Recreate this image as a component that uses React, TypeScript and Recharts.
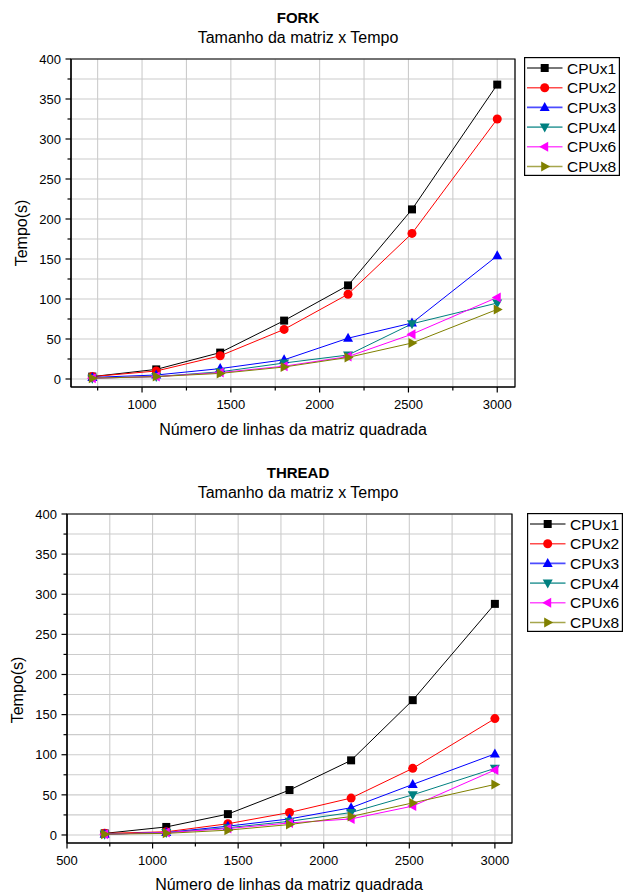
import React from 'react';
import { LineChart, Line, XAxis, YAxis, CartesianGrid, ReferenceArea, Legend } from 'recharts';

const FONT = '"Liberation Sans", Arial, Helvetica, sans-serif';

// matrix sizes (x values)
const sizes = [720, 1080, 1440, 1800, 2160, 2520, 3000];

// FORK timings (s)
const forkCpu1 = [3, 12, 33, 73, 117, 212, 368];
const forkCpu2 = [3, 10, 29, 62, 106, 182, 325];
const forkCpu3 = [2, 5, 13, 24, 51, 70, 154];
const forkCpu4 = [1, 3, 9, 20, 30, 69, 95];
const forkCpu6 = [1, 3, 8, 16, 28, 56, 102];
const forkCpu8 = [1, 3, 7, 15, 27, 45, 87];

// THREAD timings (s)
const threadCpu1 = [2, 10, 26, 56, 93, 168, 288];
const threadCpu2 = [2, 4, 14, 28, 46, 83, 145];
const threadCpu3 = [1, 3, 11, 20, 34, 63, 101];
const threadCpu4 = [1, 3, 9, 17, 28, 50, 83];
const threadCpu6 = [1, 3, 8, 15, 20, 36, 81];
const threadCpu8 = [1, 2, 6, 13, 23, 40, 63];

const seriesNames = ['CPUx1', 'CPUx2', 'CPUx3', 'CPUx4', 'CPUx6', 'CPUx8'];
const seriesColors = ['#000000', '#ff0000', '#0000ff', '#008080', '#ff00ff', '#808000'];
const seriesShapes = ['square', 'circle', 'up', 'down', 'left', 'right'];

const yTicks = [0, 25, 50, 75, 100, 125, 150, 175, 200, 225, 250, 275, 300, 325, 350, 375, 400];
const forkXTicks = [750, 1000, 1250, 1500, 1750, 2000, 2250, 2500, 2750, 3000];
const threadXTicks = [500, 750, 1000, 1250, 1500, 1750, 2000, 2250, 2500, 2750, 3000];

const buildRows = (cols: number[][]) =>
  sizes.map((n, i) => {
    const row: any = { n };
    cols.forEach((c, k) => (row['s' + k] = c[i]));
    return row;
  });

const forkRows = buildRows([forkCpu1, forkCpu2, forkCpu3, forkCpu4, forkCpu6, forkCpu8]);
const threadRows = buildRows([threadCpu1, threadCpu2, threadCpu3, threadCpu4, threadCpu6, threadCpu8]);

const Marker = ({ shape, color, cx, cy }: any) => {
  if (shape === 'circle') return <circle cx={cx} cy={cy} r={4.5} fill={color} />;
  let d = '';
  switch (shape) {
    case 'square':
      d = `M${cx - 4},${cy - 4}h8v8h-8z`;
      break;
    case 'up':
      d = `M${cx},${cy - 5.5}L${cx + 5},${cy + 3.5}L${cx - 5},${cy + 3.5}Z`;
      break;
    case 'down':
      d = `M${cx},${cy + 5.5}L${cx + 5},${cy - 3.5}L${cx - 5},${cy - 3.5}Z`;
      break;
    case 'left':
      d = `M${cx - 5.5},${cy}L${cx + 3.5},${cy - 5}L${cx + 3.5},${cy + 5}Z`;
      break;
    case 'right':
      d = `M${cx + 5.5},${cy}L${cx - 3.5},${cy - 5}L${cx - 3.5},${cy + 5}Z`;
      break;
  }
  return <path d={d} fill={color} />;
};

const makeDot = (shape: string, color: string) => (props: any) => {
  const { cx, cy, index } = props;
  if (cx == null || cy == null) return <g key={index} />;
  return (
    <g key={index}>
      <Marker shape={shape} color={color} cx={cx} cy={cy} />
    </g>
  );
};

const YTick = (props: any) => {
  const { x, y, payload } = props;
  const v = payload.value;
  const major = v % 50 === 0;
  return (
    <g>
      <line x1={x} x2={x - (major ? 5.5 : 3.5)} y1={y} y2={y} stroke="#000" strokeWidth={1.2} />
      {major && (
        <text x={x - 10} y={y} dy="0.36em" textAnchor="end" fontSize={13} fontFamily={FONT} fill="#000">
          {v}
        </text>
      )}
    </g>
  );
};

const XTick = (props: any) => {
  const { x, y, payload } = props;
  const v = payload.value;
  const major = v % 500 === 0;
  return (
    <g>
      <line x1={x} x2={x} y1={y} y2={y + (major ? 5.5 : 3.5)} stroke="#000" strokeWidth={1.2} />
      {major && (
        <text x={x} y={y + 22} textAnchor="middle" fontSize={13} fontFamily={FONT} fill="#000">
          {v}
        </text>
      )}
    </g>
  );
};

const LegendBox = () => (
  <svg width={96} height={119} style={{ display: 'block' }}>
    <rect x={0.6} y={0.6} width={94.8} height={117.8} fill="#fff" stroke="#000" strokeWidth={1.2} />
    {seriesNames.map((name, i) => {
      const cy = 11 + i * 19.7;
      return (
        <g key={name}>
          <line x1={3} x2={38.5} y1={cy} y2={cy} stroke={seriesColors[i]} strokeWidth={1.6} strokeOpacity={0.7} />
          <Marker shape={seriesShapes[i]} color={seriesColors[i]} cx={20.7} cy={cy} />
          <text x={43} y={cy} dy="0.36em" fontSize={15.5} fontFamily={FONT} fill="#000">
            {name}
          </text>
        </g>
      );
    })}
  </svg>
);

const textStyle = (size: number, bold = false): React.CSSProperties => ({
  position: 'absolute',
  fontFamily: FONT,
  fontSize: size,
  fontWeight: bold ? 'bold' : 'normal',
  lineHeight: `${size}px`,
  whiteSpace: 'nowrap',
  color: '#000',
});

interface PanelProps {
  title: string;
  top: number;
  height: number;
  rows: any[];
  xDomain: [number, number];
  xTicks: number[];
  margin: { top: number; right: number; bottom: number; left: number };
  xTitleX: number;
  yTitleX: number;
  yTitleY: number;
  legendLeft: number;
  legendTop: number;
}

const Panel = (p: PanelProps) => (
  <div style={{ position: 'absolute', left: 0, top: p.top, width: 633, height: p.height }}>
    <div style={{ ...textStyle(15, true), left: 0, width: 596, textAlign: 'center', top: 17 - 7.5 }}>{p.title}</div>
    <div style={{ ...textStyle(16), left: 0, width: 596, textAlign: 'center', top: 38 - 8 }}>
      Tamanho da matriz x Tempo
    </div>
    <LineChart width={633} height={p.height} data={p.rows} margin={p.margin}>
      <CartesianGrid stroke="#cccccc" strokeWidth={1.1} />
      <XAxis
        dataKey="n"
        type="number"
        domain={p.xDomain}
        ticks={p.xTicks}
        interval={0}
        allowDataOverflow
        height={40}
        tickLine={false}
        tickSize={0}
        tickMargin={0}
        tick={<XTick />}
        axisLine={{ stroke: '#000', strokeWidth: 1.2 }}
      />
      <YAxis
        type="number"
        domain={[-10, 400]}
        ticks={yTicks}
        interval={0}
        allowDataOverflow
        width={60}
        tickLine={false}
        tickSize={0}
        tickMargin={0}
        tick={<YTick />}
        axisLine={{ stroke: '#000', strokeWidth: 1.2 }}
      />
      <ReferenceArea
        x1={p.xDomain[0]}
        x2={p.xDomain[1]}
        y1={-10}
        y2={400}
        fill="none"
        fillOpacity={0}
        stroke="#000"
        strokeWidth={1.2}
        ifOverflow="visible"
      />
      {seriesNames.map((name, i) => (
        <Line
          key={name}
          name={name}
          dataKey={'s' + i}
          type="linear"
          stroke={seriesColors[i]}
          strokeWidth={1}
          dot={makeDot(seriesShapes[i], seriesColors[i])}
          activeDot={false}
          isAnimationActive={false}
        />
      ))}
      <Legend
        layout="vertical"
        align="center"
        verticalAlign="middle"
        content={() => <LegendBox />}
        wrapperStyle={{ left: p.legendLeft, top: p.legendTop, width: 96, height: 119 }}
      />
    </LineChart>
    <div
      style={{
        ...textStyle(16),
        left: p.xTitleX - 200,
        width: 400,
        textAlign: 'center',
        top: 430 - 8,
      }}
    >
      Número de linhas da matriz quadrada
    </div>
    <div
      style={{
        ...textStyle(16),
        left: p.yTitleX - 50,
        top: p.yTitleY - 8,
        width: 100,
        textAlign: 'center',
        transform: 'rotate(-90deg)',
      }}
    >
      Tempo(s)
    </div>
  </div>
);

export default function App() {
  return (
    <div
      style={{
        position: 'absolute',
        left: 0,
        top: 0,
        width: 633,
        height: 892,
        overflow: 'hidden',
        background: '#fff',
      }}
    >
      <Panel
        title="FORK"
        top={0}
        height={445}
        rows={forkRows}
        xDomain={[600, 3100]}
        xTicks={forkXTicks}
        margin={{ top: 59, right: 118, bottom: 18, left: 11 }}
        xTitleX={293}
        yTitleX={22}
        yTitleY={233}
        legendLeft={524}
        legendTop={57}
      />
      <Panel
        title="THREAD"
        top={455}
        height={437}
        rows={threadRows}
        xDomain={[500, 3100]}
        xTicks={threadXTicks}
        margin={{ top: 59, right: 121, bottom: 9, left: 7 }}
        xTitleX={289}
        yTitleX={18}
        yTitleY={235}
        legendLeft={527}
        legendTop={58}
      />
    </div>
  );
}
